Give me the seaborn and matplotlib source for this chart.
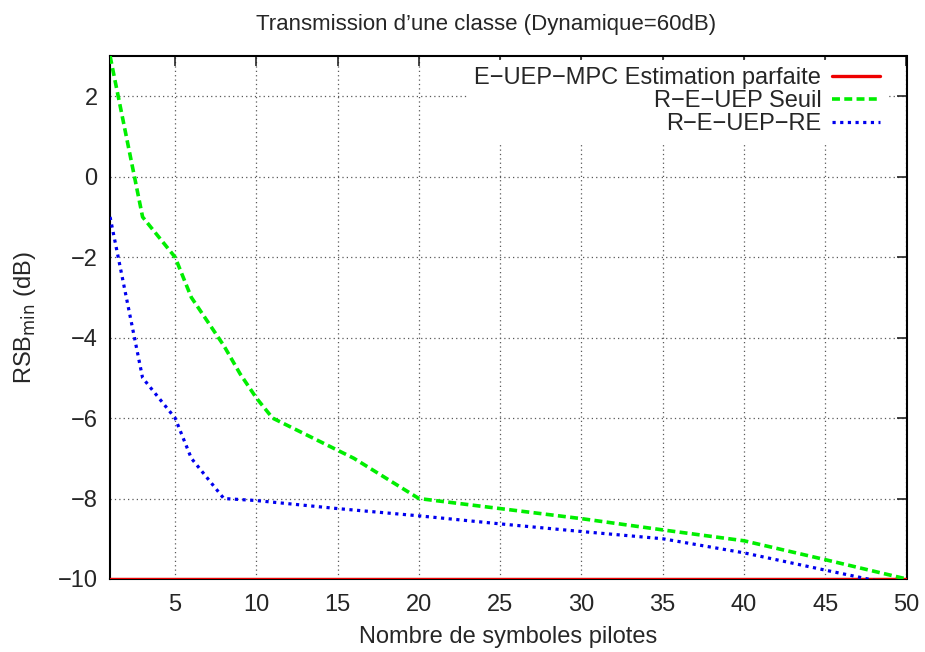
# Courbes RSB minimal en fonction du nombre de symboles pilotes
import numpy as np
import pandas as pd
import seaborn as sns
import matplotlib.pyplot as plt

# Valeurs
x_parfaite = [1, 50]
rsb_parfaite = [-10, -10]

x_seuil = [1, 3, 5, 6, 7, 8, 9, 10, 11, 16, 20, 25, 30, 35, 40, 45, 50]
rsb_seuil = [3, -1, -2, -3, -3.6, -4.2, -4.9, -5.5, -6, -7, -8,
             -8.25, -8.5, -8.78, -9.05, -9.52, -10]

x_re = [1, 3, 5, 6, 8, 10, 15, 20, 25, 30, 35, 40, 45, 50]
rsb_re = [-1, -5, -6, -7, -8, -8.05, -8.25, -8.43, -8.63, -8.82,
          -9.0, -9.35, -9.78, -10.2]

labels = ["E\u2212UEP\u2212MPC Estimation parfaite",
          "R\u2212E\u2212UEP Seuil",
          "R\u2212E\u2212UEP\u2212RE"]
x_ticks = [5, 10, 15, 20, 25, 30, 35, 40, 45, 50]
y_ticks = [-10, -8, -6, -4, -2, 0, 2]


def main():
    sns.set_style("white")
    plt.rcParams["font.family"] = ["Liberation Sans", "DejaVu Sans"]
    fs = 17

    fig = plt.figure(figsize=(9.25, 6.52), dpi=100)
    ax = fig.add_axes([0.119, 0.112, 0.861, 0.802])

    # Les trois courbes
    sns.lineplot(x=x_parfaite, y=rsb_parfaite, ax=ax, color="#ee0000",
                 linewidth=2.4, label=labels[0], zorder=3)
    sns.lineplot(x=x_seuil, y=rsb_seuil, ax=ax, color="#00ee00",
                 linewidth=2.6, label=labels[1], zorder=3)
    sns.lineplot(x=x_re, y=rsb_re, ax=ax, color="#0000ee",
                 linewidth=2.3, label=labels[2], zorder=3)
    ax.lines[1].set_dashes((2.2, 1.2))
    ax.lines[2].set_dashes((1.0, 1.4))

    ax.set_xlim(1, 50)
    ax.set_ylim(-10, 3)
    ax.set_xticks(x_ticks)
    ax.set_yticks(y_ticks)
    ax.tick_params(direction="in", length=7, width=1.2, top=True,
                   right=True, labelsize=fs)
    ax.tick_params(axis="x", pad=11)
    ax.tick_params(axis="y", pad=9)

    # Grille pointillee
    ax.grid(True, color="0.35", linestyle=(0, (1, 2.5)), linewidth=0.9)
    for sp in ax.spines.values():
        sp.set_linewidth(1.5)
        sp.set_color("black")

    ax.set_xlabel("Nombre de symboles pilotes", fontsize=fs, labelpad=7)
    ax.set_ylabel("RSB$_{\\mathrm{min}}$ (dB)", fontsize=fs, labelpad=14)
    ax.set_title("Transmission d\u2019une classe (Dynamique=60dB)",
                 fontsize=16, pad=19, x=0.472)

    # Legende sans cadre, texte a gauche du trait
    leg = ax.legend(loc="upper right", bbox_to_anchor=(0.976, 0.993),
                    markerfirst=False, frameon=True, fontsize=fs,
                    handlelength=2.05, borderaxespad=0.0,
                    labelspacing=0.05, handletextpad=0.45, borderpad=0.3)
    leg.get_frame().set_edgecolor("none")
    leg.get_frame().set_facecolor("white")
    leg.get_frame().set_alpha(1.0)
    leg._legend_box.align = "right"

    fig.savefig("out.png", dpi=100)


if __name__ == "__main__":
    main()
